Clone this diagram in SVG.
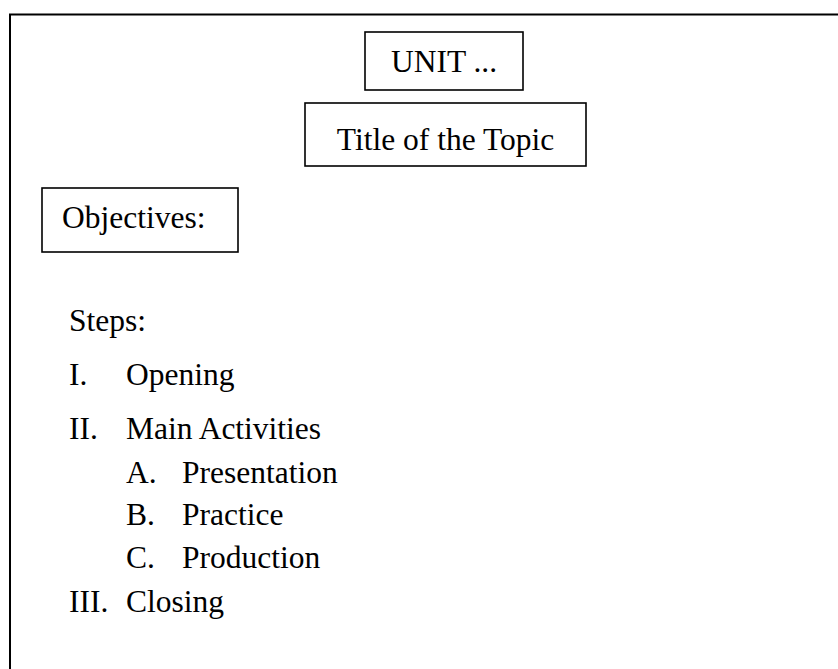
<svg xmlns="http://www.w3.org/2000/svg" width="838" height="669" viewBox="0 0 838 669">
  <style>
    .box { fill: #ffffff; stroke: #000000; stroke-width: 1.6; }
    .frame { fill: none; stroke: #000000; stroke-width: 2; }
    .t { font-family: "Liberation Serif", "Times New Roman", serif; font-size: 31.5px; fill: #000000; }
    .c { text-anchor: middle; }
  </style>
  <rect width="838" height="669" fill="#ffffff"/>

  <!-- outer page frame (runs past the right and bottom edges) -->
  <rect class="frame" x="10" y="14.5" width="840" height="670"/>

  <g id="unit">
    <rect class="box" x="365" y="32" width="158" height="58"/>
    <text class="t c" x="444" y="72">UNIT ...</text>
  </g>

  <g id="title">
    <rect class="box" x="305" y="103" width="281" height="63"/>
    <text class="t c" x="445.5" y="150">Title of the Topic</text>
  </g>

  <g id="objectives">
    <rect class="box" x="42" y="188" width="196" height="64"/>
    <text class="t" x="62" y="228">Objectives:</text>
  </g>

  <g id="steps">
    <text class="t" x="69" y="331">Steps:</text>
    <text class="t" x="69" y="385">I.</text>
    <text class="t" x="126" y="385">Opening</text>
    <text class="t" x="69" y="439">II.</text>
    <text class="t" x="126" y="439">Main Activities</text>
    <text class="t" x="126" y="483">A.</text>
    <text class="t" x="182" y="483">Presentation</text>
    <text class="t" x="126" y="525">B.</text>
    <text class="t" x="182" y="525">Practice</text>
    <text class="t" x="126" y="568">C.</text>
    <text class="t" x="182" y="568">Production</text>
    <text class="t" x="69" y="612">III.</text>
    <text class="t" x="126" y="612">Closing</text>
  </g>
</svg>
